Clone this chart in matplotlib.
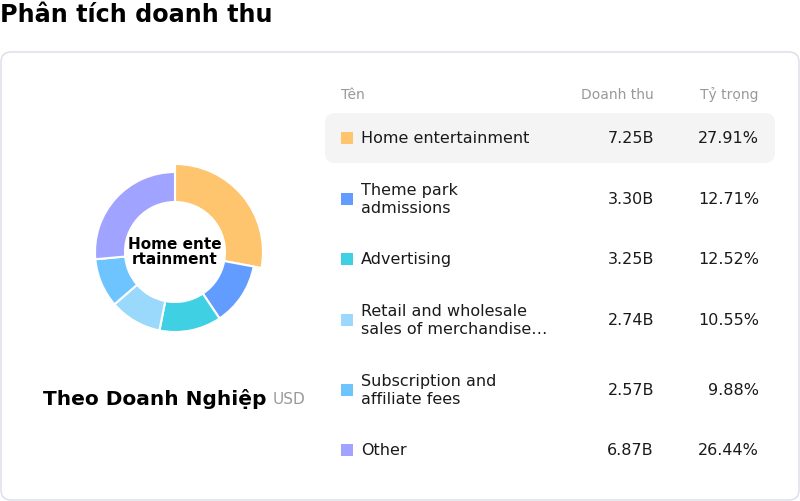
import matplotlib.pyplot as plt
from matplotlib.patches import FancyBboxPatch, Rectangle

# Dữ liệu
ten = ["Home entertainment", "Theme park\nadmissions", "Advertising",
       "Retail and wholesale\nsales of merchandise…", "Subscription and\naffiliate fees", "Other"]
doanh_thu = [7.25, 3.30, 3.25, 2.74, 2.57, 6.87]
ty_trong = [27.91, 12.71, 12.52, 10.55, 9.88, 26.44]
mau = ["#FFC46E", "#629CFF", "#40D0E4", "#9AD9FC", "#6EC4FF", "#A0A3FF"]
row_y = [138.5, 199.5, 259.5, 320.5, 390.5, 450.5]

fig = plt.figure(figsize=(8, 5.01), dpi=100)
ax = fig.add_axes([0, 0, 1, 1])
ax.set_xlim(0, 800)
ax.set_ylim(501, 0)
ax.axis("off")

# Tiêu đề
ax.text(0, 15, "Phân tích doanh thu", fontsize=17.2, fontweight="bold", va="center", ha="left")

# Khung thẻ
card = FancyBboxPatch((1, 52), 798, 448, boxstyle="round,pad=0,rounding_size=10",
                      facecolor="white", edgecolor="#DCDCEA", linewidth=1)
ax.add_patch(card)

# Hàng được chọn
hl = FancyBboxPatch((325, 113), 450, 50, boxstyle="round,pad=0,rounding_size=10",
                    facecolor="#F4F4F4", edgecolor="none")
ax.add_patch(hl)

# Tiêu đề cột
ax.text(341, 95, "Tên", fontsize=10, color="#999999", va="center", ha="left")
ax.text(654, 95, "Doanh thu", fontsize=10, color="#999999", va="center", ha="right")
ax.text(759, 95, "Tỷ trọng", fontsize=10, color="#999999", va="center", ha="right")

for i in range(len(ten)):
    y = row_y[i]
    ax.add_patch(Rectangle((341, y - 6.5), 12, 12, facecolor=mau[i], edgecolor="none"))
    ax.text(361, y, ten[i], fontsize=11.5, color="#1a1a1a", va="center", ha="left",
            linespacing=1.3)
    ax.text(654, y, f"{doanh_thu[i]:.2f}B", fontsize=11.5, color="#1a1a1a", va="center", ha="right")
    ax.text(759, y, f"{ty_trong[i]:.2f}%", fontsize=11.5, color="#1a1a1a", va="center", ha="right")

# Chú thích dưới biểu đồ
ax.text(43, 399, "Theo Doanh Nghiệp", fontsize=14.5, fontweight="bold", va="center", ha="left")
ax.text(273, 399, "USD", fontsize=11, color="#999999", va="center", ha="left")

# Biểu đồ tròn
cx, cy = 175, 252
axp = fig.add_axes([(cx - 100) / 800, (501 - cy - 100) / 501, 200 / 800, 200 / 501])
axp.set_xlim(-1, 1)
axp.set_ylim(-1, 1)
axp.axis("off")
wedges, _ = axp.pie(doanh_thu, colors=mau, startangle=90, counterclock=False, radius=0.8,
                    wedgeprops=dict(width=0.3, edgecolor="white", linewidth=1.5))
wedges[0].set_radius(0.88)
wedges[0].set_width(0.38)
axp.set_xlim(-1, 1)
axp.set_ylim(-1, 1)
axp.text(0, 0, "Home ente\nrtainment", fontsize=11, fontweight="bold", ha="center", va="center",
         linespacing=1.0)

fig.savefig("out.png", dpi=100)
